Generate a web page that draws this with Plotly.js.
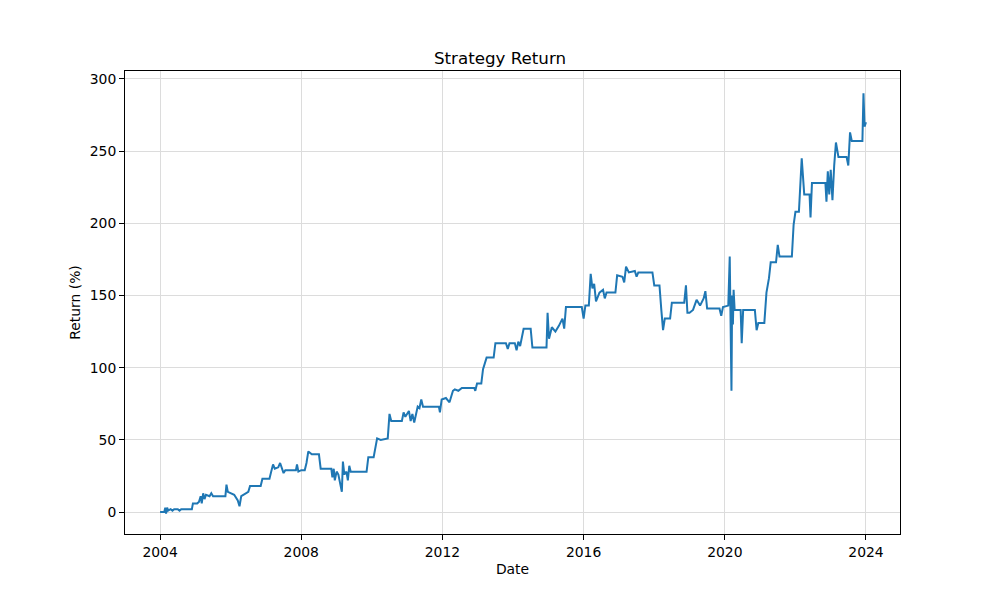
<!DOCTYPE html>
<html>
<head>
<meta charset="utf-8">
<script src="https://cdn.plot.ly/plotly-3.0.1.min.js"></script>
<style>
  html, body { margin: 0; padding: 0; background: #fff; }
  #graph { width: 1000px; height: 600px; }
</style>
</head>
<body>
<div id="graph"></div>
<script>
// dates as decimal years
const years = [
  2004.00, 2004.12, 2004.15, 2004.17, 2004.20, 2004.23, 2004.30, 2004.35, 2004.40, 2004.50,
  2004.55, 2004.60, 2004.90, 2004.93, 2005.05, 2005.10, 2005.15, 2005.18, 2005.22, 2005.26,
  2005.30, 2005.40, 2005.45, 2005.50, 2005.85, 2005.88, 2005.92, 2006.10, 2006.20, 2006.25,
  2006.30, 2006.45, 2006.50, 2006.55, 2006.85, 2006.90, 2007.10, 2007.15, 2007.20, 2007.25,
  2007.35, 2007.40, 2007.45, 2007.50, 2007.55, 2007.85, 2007.88, 2007.92, 2008.00, 2008.10,
  2008.15, 2008.20, 2008.30, 2008.50, 2008.55, 2008.85, 2008.88, 2008.92, 2008.95, 2009.00,
  2009.05, 2009.10, 2009.15, 2009.18, 2009.22, 2009.28, 2009.32, 2009.36, 2009.40, 2009.85,
  2009.90, 2010.05, 2010.10, 2010.15, 2010.25, 2010.45, 2010.50, 2010.55, 2010.85, 2010.90,
  2010.95, 2011.05, 2011.10, 2011.15, 2011.20, 2011.30, 2011.35, 2011.40, 2011.45, 2011.90,
  2011.93, 2011.98, 2012.10, 2012.20, 2012.25, 2012.30, 2012.35, 2012.45, 2012.55, 2012.90,
  2012.93, 2012.98, 2013.10, 2013.15, 2013.25, 2013.45, 2013.50, 2013.80, 2013.85, 2013.90,
  2014.05, 2014.10, 2014.15, 2014.20, 2014.30, 2014.50, 2014.55, 2014.95, 2014.98, 2015.02,
  2015.10, 2015.20, 2015.30, 2015.40, 2015.45, 2015.50, 2015.95, 2016.00, 2016.05, 2016.15,
  2016.20, 2016.25, 2016.30, 2016.35, 2016.45, 2016.55, 2016.60, 2016.65, 2016.90, 2016.95,
  2017.10, 2017.15, 2017.20, 2017.28, 2017.45, 2017.50, 2017.55, 2017.95, 2018.00, 2018.15,
  2018.20, 2018.25, 2018.30, 2018.45, 2018.50, 2018.85, 2018.90, 2018.94, 2019.00, 2019.10,
  2019.20, 2019.30, 2019.40, 2019.45, 2019.50, 2019.85, 2019.90, 2019.95, 2020.10, 2020.14,
  2020.17, 2020.19, 2020.21, 2020.23, 2020.25, 2020.28, 2020.45, 2020.48, 2020.52, 2020.85,
  2020.90, 2020.95, 2021.12, 2021.18, 2021.25, 2021.30, 2021.45, 2021.50, 2021.55, 2021.90,
  2021.95, 2022.00, 2022.10, 2022.13, 2022.18, 2022.25, 2022.40, 2022.43, 2022.47, 2022.85,
  2022.88, 2022.92, 2022.96, 2023.00, 2023.05, 2023.10, 2023.15, 2023.22, 2023.45, 2023.50,
  2023.55, 2023.60, 2023.90, 2023.93, 2023.96, 2024.00
];

const returnPct = [
  0, 0, 3, -1, 3, 1, 2, 1, 2, 2,
  1, 2, 2, 6, 6, 7, 11, 6, 13, 9,
  12, 11, 13, 11, 11, 19, 14, 12, 8, 4,
  11, 13, 14, 18, 18, 23, 23, 28, 33, 30,
  31, 34, 30, 27, 29, 29, 33, 28, 29, 29,
  34, 42, 40, 40, 30, 30, 24, 30, 22, 28,
  26, 20, 14, 35, 26, 28, 22, 32, 28, 28,
  38, 38, 45, 51, 50, 51, 68, 63, 63, 69,
  66, 70, 63, 68, 62, 73, 72, 78, 73, 73,
  69, 78, 79, 76, 80, 84, 85, 84, 86, 86,
  84, 89, 89, 99, 107, 107, 117, 117, 113, 117,
  117, 112, 118, 115, 127, 127, 114, 114, 138, 120,
  128, 125, 129, 134, 127, 142, 142, 134, 143, 143,
  165, 155, 158, 146, 152, 154, 148, 152, 152, 164,
  163, 159, 170, 166, 167, 163, 166, 166, 157, 157,
  140, 126, 134, 134, 145, 145, 157, 138, 138, 140,
  147, 143, 148, 153, 141, 141, 136, 142, 143, 177,
  120, 84, 150, 130, 154, 140, 140, 117, 140, 140,
  126, 131, 131, 152, 162, 173, 173, 185, 177, 177,
  199, 208, 208, 225, 245, 220, 220, 204, 228, 228,
  215, 236, 220, 237, 216, 240, 256, 246, 246, 240,
  263, 257, 257, 290, 267, 270
];

const tickYears = ['2004', '2008', '2012', '2016', '2020', '2024'];

function yearToDate(y) {
    const yr = Math.floor(y);
    const start = Date.UTC(yr, 0, 1);
    const end = Date.UTC(yr + 1, 0, 1);
    return new Date(start + (y - yr) * (end - start)).toISOString().slice(0, 10);
}

const font = { family: 'DejaVu Sans', color: '#000', size: 13.9 };

const trace = {
    x: years.map(yearToDate),
    y: returnPct,
    mode: 'lines', type: 'scatter',
    line: { color: '#1f77b4', width: 2 },
    hoverinfo: 'x+y'
};

Plotly.newPlot('graph', [trace], {
    width: 1000, height: 600,
    margin: { l: 125, r: 100, t: 71, b: 66 },
    paper_bgcolor: '#fff', plot_bgcolor: '#fff',
    font: font,
    showlegend: false,
    title: {
        text: 'Strategy Return',
        font: { family: 'DejaVu Sans', size: 16.7, color: '#000' },
        x: 0.5, xanchor: 'center', y: 0.903, yanchor: 'middle'
    },
    xaxis: {
        type: 'date',
        range: [yearToDate(2003.008), yearToDate(2024.963)],
        tickvals: tickYears.map(t => t + '-01-01'),
        ticktext: tickYears,
        ticks: 'outside', ticklen: 5, tickwidth: 1, tickcolor: '#000',
        showline: true, linecolor: '#000', linewidth: 1, mirror: true,
        showgrid: true, gridcolor: '#dcdcdc', gridwidth: 1,
        zeroline: false,
        title: { text: 'Date', font: font, standoff: 5 }
    },
    yaxis: {
        range: [-15.2, 305.5],
        tickvals: [0, 50, 100, 150, 200, 250, 300],
        ticks: 'outside', ticklen: 5, tickwidth: 1, tickcolor: '#000',
        showline: true, linecolor: '#000', linewidth: 1, mirror: true,
        showgrid: true, gridcolor: '#dcdcdc', gridwidth: 1,
        zeroline: false,
        title: { text: 'Return (%)', font: font, standoff: 5 }
    }
}, { displayModeBar: false });
</script>
</body>
</html>
